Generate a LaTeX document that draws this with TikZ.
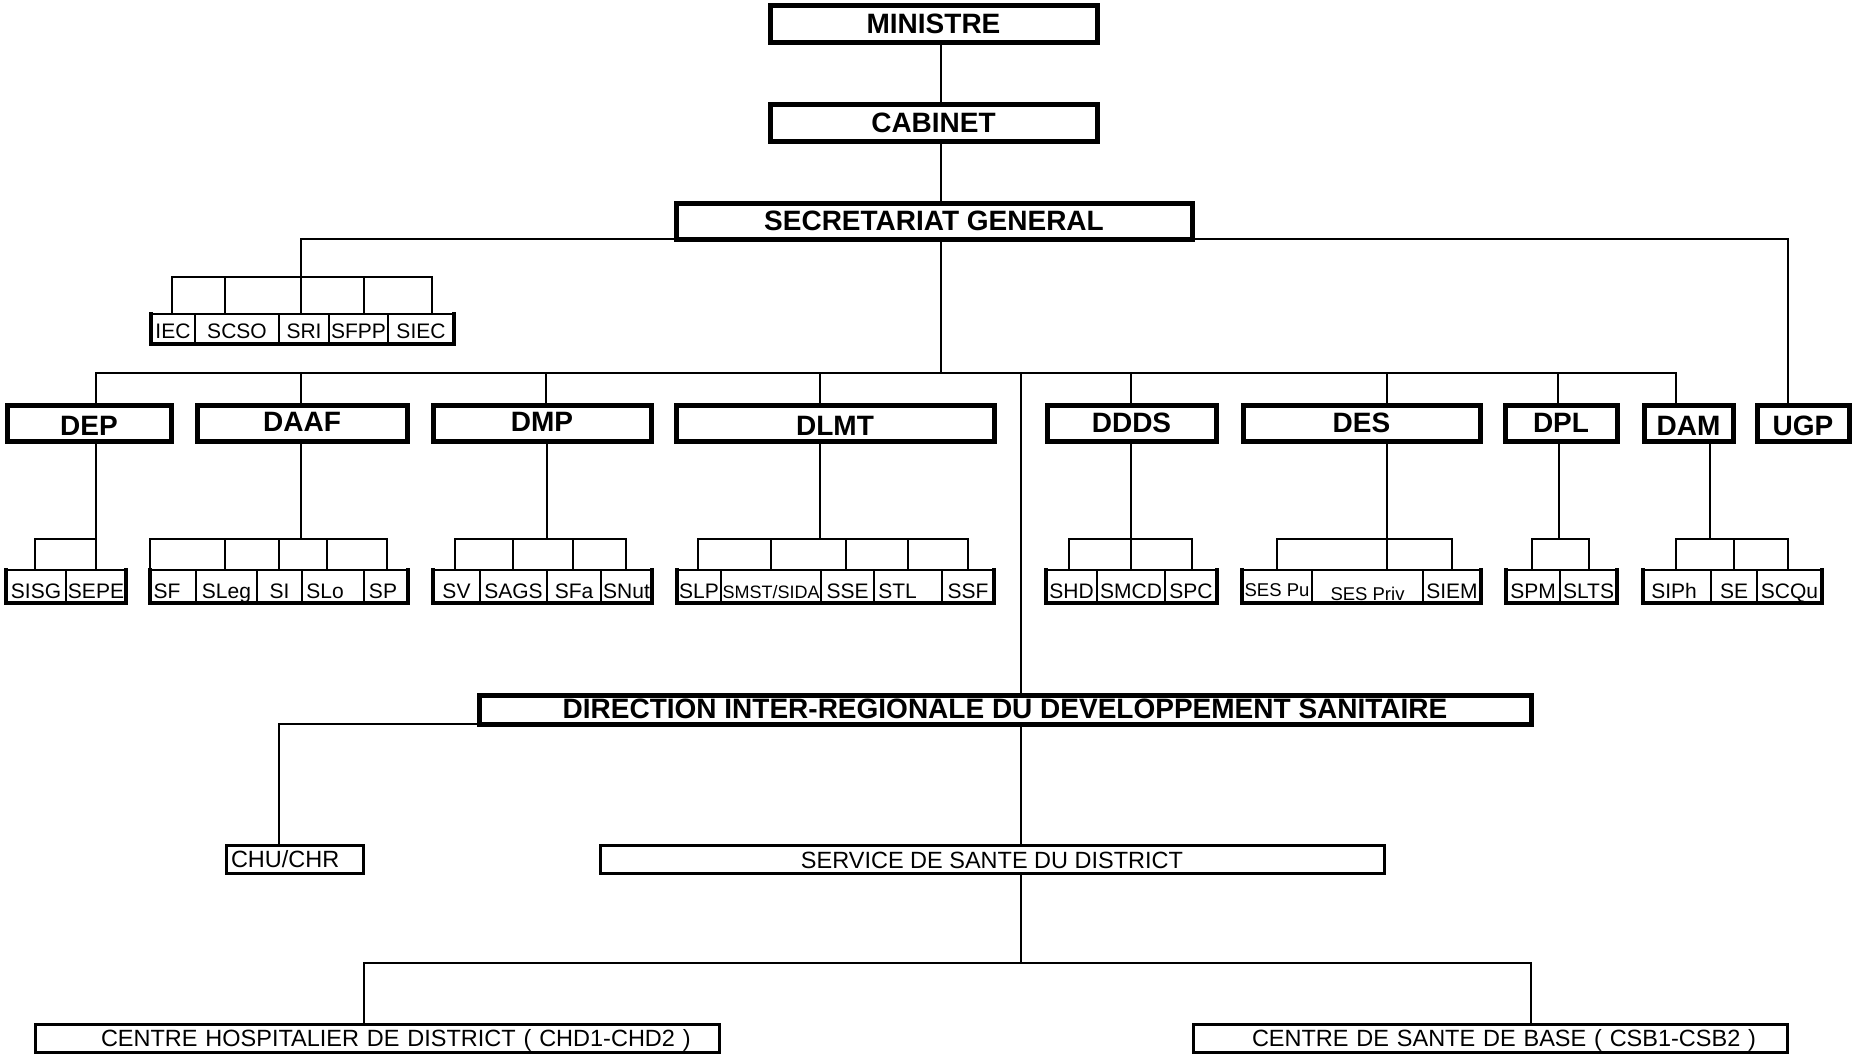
\documentclass[tikz,border=0pt]{standalone}
\usepackage{fontspec}
\setmainfont{Liberation Sans}
\tikzset{
  box/.style={draw, fill=white, inner sep=0pt, outer sep=0pt, text depth=0pt},
  mainbox/.style={box, line width=5pt, font=\fontsize{28}{32}\selectfont\bfseries, text height=19pt},
  cell/.style={box, line width=2pt, font=\fontsize{21}{24}\selectfont, text height=24pt},
  cellA/.style={cell, text height=18pt},
  lowbox/.style={box, line width=3pt, font=\fontsize{23.5}{26}\selectfont, text height=17pt},
  conn/.style={line width=2.8pt, line cap=rect},
  rowedge/.style={line width=3.6pt, line cap=rect, line join=miter},
}
\newcommand\cbox[7]{\node[#1, minimum width={#5-#3}, minimum height={#6-#4}] (#2) at ({(#3+#5)/2},{(#4+#6)/2}) {#7};}
\newcommand\tk[3]{\coordinate (t-#1) at (#2,#3); \draw[conn] (t-#1) -- (t-#1 |- #1.north);}
\begin{document}
\begin{tikzpicture}[x=1pt, y=-1pt]
\useasboundingbox (0,0) rectangle (1852,1054);
% ---- main boxes
\cbox{mainbox}{MIN}{770}{6}{1097}{43}{MINISTRE}
\cbox{mainbox}{CAB}{770}{105}{1097}{142}{CABINET}
\cbox{mainbox}{SG}{676}{203}{1192}{239}{SECRETARIAT GENERAL}
\cbox{mainbox, text height=24pt}{DEP}{7}{405}{171}{441}{DEP}
\cbox{mainbox, text height=17pt}{DAAF}{197}{405}{407}{441}{DAAF}
\cbox{mainbox, text height=17pt}{DMP}{433}{405}{651}{441}{DMP}
\cbox{mainbox, text height=24pt}{DLMT}{676}{405}{994}{441}{DLMT}
\cbox{mainbox, text height=18pt}{DDDS}{1047}{405}{1216}{441}{DDDS}
\cbox{mainbox, text height=18pt}{DES}{1243}{405}{1480}{441}{DES}
\cbox{mainbox, text height=18pt}{DPL}{1505}{405}{1617}{441}{DPL}
\cbox{mainbox, text height=24pt}{DAM}{1644}{405}{1733}{441}{DAM}
\cbox{mainbox, text height=24pt}{UGP}{1757}{405}{1849}{441}{UGP}
\cbox{mainbox, text height=17pt}{DIR}{479}{695}{1531}{724}{DIRECTION INTER-REGIONALE DU DEVELOPPEMENT SANITAIRE}
% ---- row A (services of SG)
\cbox{cellA}{IEC}{151}{314}{195}{344}{IEC}
\cbox{cellA}{SCSO}{195}{314}{279}{344}{SCSO}
\cbox{cellA}{SRI}{279}{314}{329}{344}{SRI}
\cbox{cellA}{SFPP}{329}{314}{388}{344}{SFPP}
\cbox{cellA}{SIEC}{388}{314}{454}{344}{SIEC}
% ---- DEP
\cbox{cell}{SISG}{6}{570}{66}{603}{SISG}
\cbox{cell}{SEPE}{66}{570}{126}{603}{SEPE}
% ---- DAAF
\cbox{cell}{SF}{150}{570}{196}{603}{SF\hspace*{12pt}}
\cbox{cell}{SLeg}{196}{570}{257}{603}{SLeg}
\cbox{cell}{SI}{257}{570}{302}{603}{SI}
\cbox{cell}{SLo}{302}{570}{364}{603}{SLo\hspace*{16pt}}
\cbox{cell}{SP}{364}{570}{408}{603}{SP\hspace*{6pt}}
% ---- DMP
\cbox{cell}{SV}{433}{570}{480}{603}{SV}
\cbox{cell}{SAGS}{480}{570}{547}{603}{SAGS}
\cbox{cell}{SFa}{547}{570}{601}{603}{SFa}
\cbox{cell}{SNut}{601}{570}{652}{603}{SNut}
% ---- DLMT
\cbox{cell}{SLP}{677}{570}{721}{603}{SLP}
\cbox{cell}{SMST}{721}{570}{821}{603}{\fontsize{18}{20}\selectfont SMST/SIDA}
\cbox{cell}{SSE}{821}{570}{874}{603}{SSE}
\cbox{cell}{STL}{874}{570}{942}{603}{STL\hspace*{21pt}}
\cbox{cell}{SSF}{942}{570}{994}{603}{SSF}
% ---- DDDS
\cbox{cell}{SHD}{1046}{570}{1097}{603}{SHD}
\cbox{cell}{SMCD}{1097}{570}{1165}{603}{SMCD}
\cbox{cell}{SPC}{1165}{570}{1217}{603}{SPC}
% ---- DES
\cbox{cell, text height=19pt}{SESPu}{1242}{570}{1312}{603}{\fontsize{18.5}{20}\selectfont SES Pu}
\cbox{cell, text height=27pt}{SESPriv}{1312}{570}{1423}{603}{\fontsize{18.5}{20}\selectfont SES Priv}
\cbox{cell}{SIEM}{1423}{570}{1481}{603}{SIEM}
% ---- DPL
\cbox{cell}{SPM}{1506}{570}{1560}{603}{SPM}
\cbox{cell}{SLTS}{1560}{570}{1617}{603}{SLTS}
% ---- DAM
\cbox{cell}{SIPh}{1643}{570}{1711}{603}{SIPh\hspace*{6pt}}
\cbox{cell}{SE}{1711}{570}{1757}{603}{SE}
\cbox{cell}{SCQu}{1757}{570}{1822}{603}{SCQu}
% ---- lower boxes
\cbox{lowbox, align=left, text width=137pt, text height=16pt}{CHU}{226}{845}{363}{873}{\hspace*{5pt}CHU/CHR}
\cbox{lowbox, text height=18pt}{SERV}{600}{845}{1384}{873}{SERVICE DE SANTE DU DISTRICT}
\cbox{lowbox, align=left, text width=684pt, text height=16pt}{CH}{35}{1024}{719}{1052}{\hspace*{66pt}CENTRE HOSPITALIER DE DISTRICT ( CHD1-CHD2 )}
\cbox{lowbox, align=left, text width=594pt, text height=16pt}{CS}{1193}{1024}{1787}{1052}{\hspace*{59pt}CENTRE DE SANTE DE BASE ( CSB1-CSB2 )}
% ---- thick outer edges of the service rows
\foreach \a/\b in {IEC/SIEC, SISG/SEPE, SF/SP, SV/SNut, SLP/SSF, SHD/SPC, SESPu/SIEM, SPM/SLTS, SIPh/SCQu}
  \draw[rowedge] (\a.north west) -- (\a.south west) -- (\b.south east) -- (\b.north east);
% ---- connectors, top
\coordinate (trunk) at (941,0);
\coordinate (mainbus) at (0,373);
\draw[conn] (MIN.south -| trunk) -- (CAB.north -| trunk);
\draw[conn] (CAB.south -| trunk) -- (SG.north -| trunk);
\draw[conn] (SG.south -| trunk) -- (trunk |- mainbus);
\coordinate (sgL) at (301,239);
\coordinate (sgR) at (1788,239);
\draw[conn] (SG.west |- sgL) -- (sgL) -- (sgL |- SRI.north);
\draw[conn] (SG.east |- sgR) -- (sgR) -- (sgR |- UGP.north);
% row A bus and ticks
\tk{IEC}{172}{277}
\tk{SCSO}{225}{277}
\tk{SFPP}{364}{277}
\tk{SIEC}{432}{277}
\draw[conn] (t-IEC) -- (t-SIEC);
% main bus and drops
\foreach \n/\x in {DEP/96, DAAF/301, DMP/546, DLMT/820, DDDS/1131, DES/1387, DPL/1558, DAM/1676}{
  \coordinate (u\n) at (\x,373);
  \draw[conn] (u\n) -- (u\n |- \n.north);
}
\draw[conn] (uDEP) -- (uDAM);
% verticals below the directions
\foreach \n/\x in {DEP/96, DAAF/301, DMP/547, DLMT/820, DDDS/1131, DES/1387, DPL/1559, DAM/1710}{
  \coordinate (l\n) at (\x,539);
  \draw[conn] (\n.south -| l\n) -- (l\n);
}
% sub buses and ticks
\tk{SISG}{35}{539} \tk{SEPE}{96}{539}
\tk{SF}{150}{539} \tk{SLeg}{225}{539} \tk{SI}{279}{539} \tk{SLo}{327}{539} \tk{SP}{387}{539}
\tk{SV}{455}{539} \tk{SAGS}{513}{539} \tk{SFa}{573}{539} \tk{SNut}{626}{539}
\tk{SLP}{698}{539} \tk{SMST}{771}{539} \tk{SSE}{846}{539} \tk{STL}{908}{539} \tk{SSF}{968}{539}
\tk{SHD}{1069}{539} \tk{SMCD}{1131}{539} \tk{SPC}{1192}{539}
\tk{SESPu}{1277}{539} \tk{SESPriv}{1387}{539} \tk{SIEM}{1452}{539}
\tk{SPM}{1532}{539} \tk{SLTS}{1589}{539}
\tk{SIPh}{1676}{539} \tk{SE}{1734}{539} \tk{SCQu}{1788}{539}
\foreach \a/\b in {SISG/SEPE, SF/SP, SV/SNut, SLP/SSF, SHD/SPC, SESPu/SIEM, SPM/SLTS, SIPh/SCQu}
  \draw[conn] (t-\a) -- (t-\b);
% ---- lower part
\coordinate (uDIR) at (1021,373);
\draw[conn] (uDIR) -- (uDIR |- DIR.north);
\draw[conn] (DIR.south -| uDIR) -- (SERV.north -| uDIR);
\coordinate (chuX) at (279,0);
\draw[conn] (DIR.south west) -| (chuX |- CHU.north);
\coordinate (lbus) at (1021,963);
\coordinate (bL) at (364,963);
\coordinate (bR) at (1531,963);
\draw[conn] (SERV.south -| lbus) -- (lbus);
\draw[conn] (bL) -- (bR);
\draw[conn] (bL) -- (bL |- CH.north);
\draw[conn] (bR) -- (bR |- CS.north);
\end{tikzpicture}
\end{document}
